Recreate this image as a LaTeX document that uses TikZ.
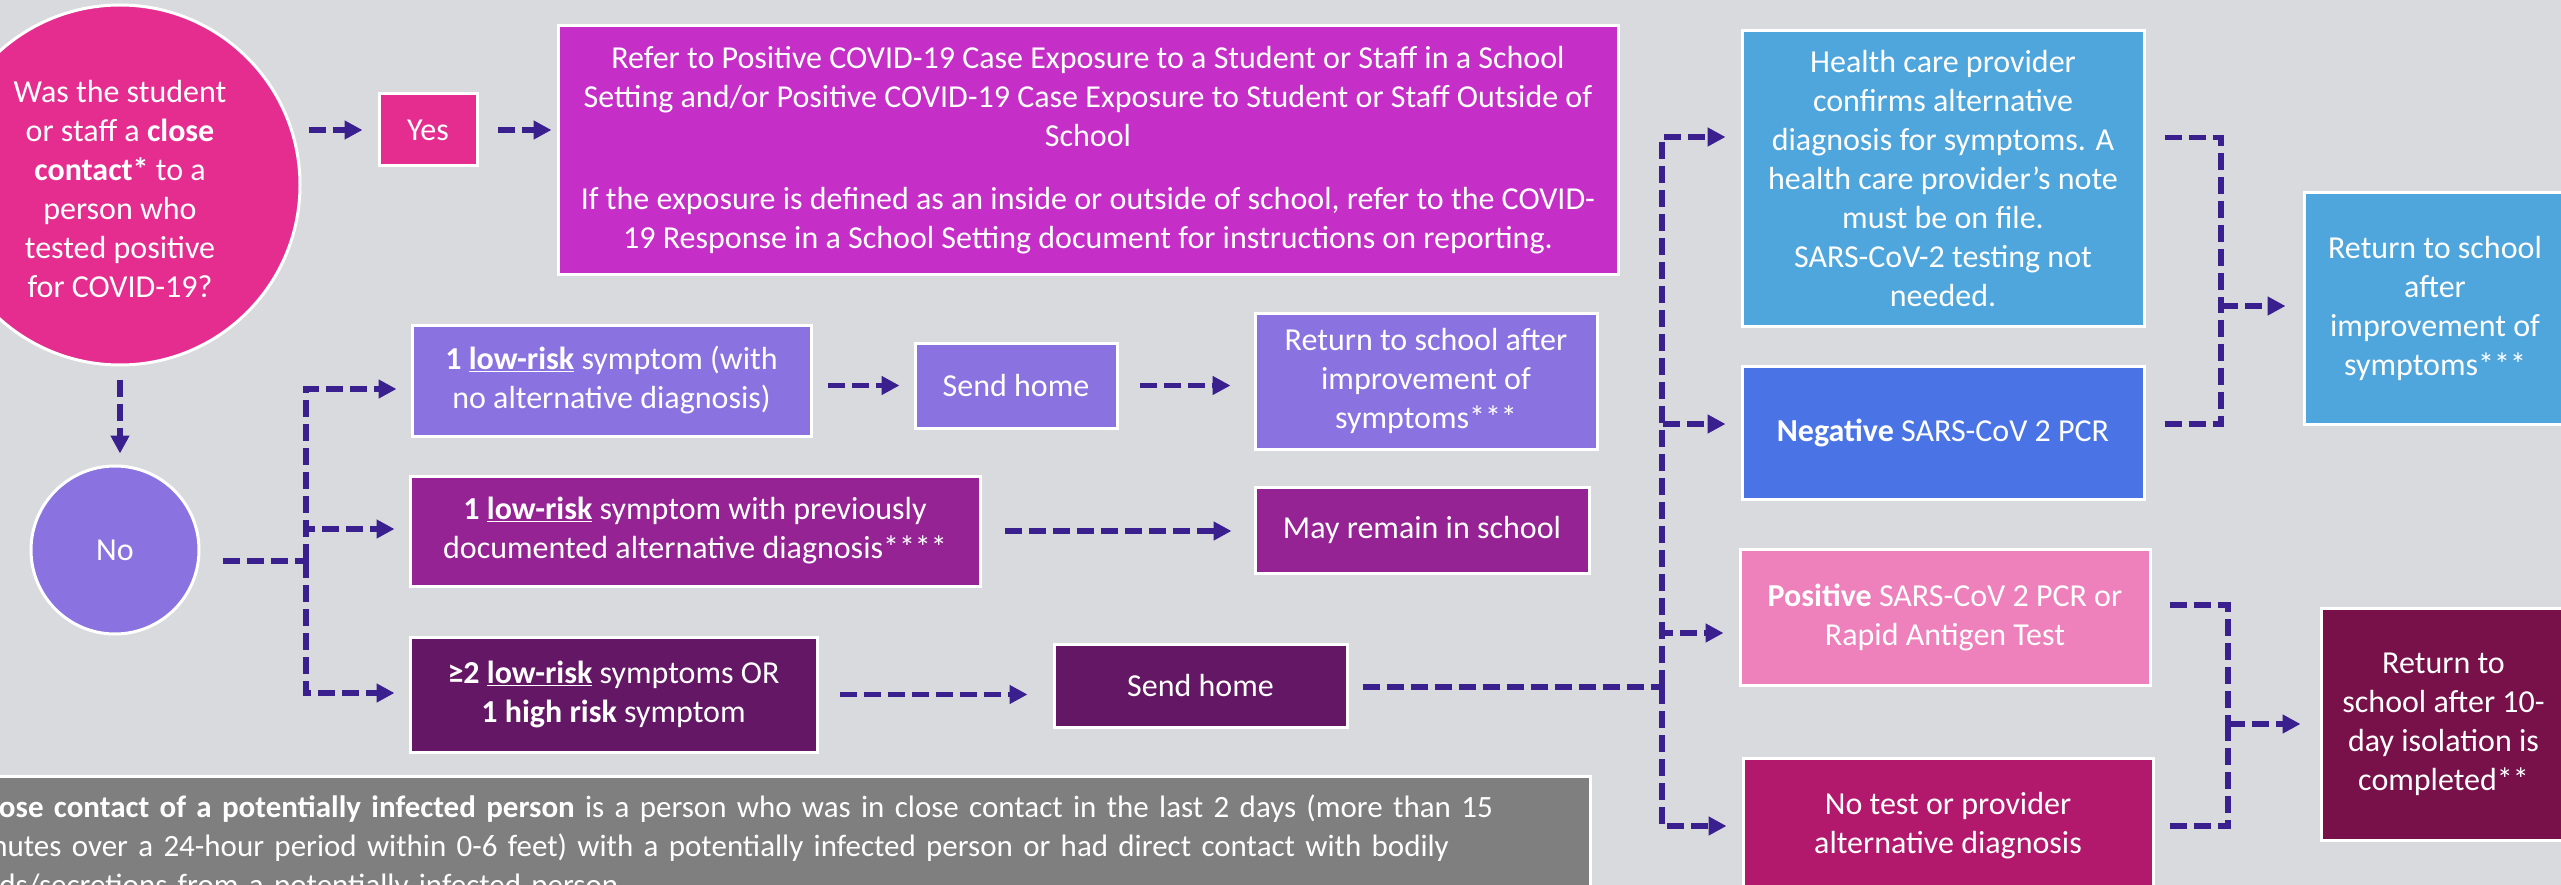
\documentclass[tikz,border=0pt]{standalone}
\usepackage{fontspec}
\setmainfont{Carlito}
\usetikzlibrary{positioning}
\usetikzlibrary{arrows.meta}

\definecolor{bg}{HTML}{D9DADE}
\definecolor{flow}{HTML}{3A1F8E}
\definecolor{hotpink}{HTML}{E42D8F}
\definecolor{orchid}{HTML}{C52EC7}
\definecolor{lav}{HTML}{8A72E0}
\definecolor{plum}{HTML}{952394}
\definecolor{grape}{HTML}{641764}
\definecolor{sky}{HTML}{4FA6DC}
\definecolor{royal}{HTML}{4A74E6}
\definecolor{rose}{HTML}{EE80BB}
\definecolor{berry}{HTML}{B2186C}
\definecolor{wine}{HTML}{781149}
\definecolor{footgray}{HTML}{7F7F7F}

\tikzset{
  box/.style={draw=white, line width=3pt, text=white, align=center, inner sep=0pt,
    font=\fontsize{32pt}{39pt}\selectfont},
  link/.style={draw=flow, line width=5.5pt, dash pattern=on 17pt off 7pt},
  arr/.style={link, -{Triangle[length=18pt,width=18pt]}},
}

\begin{document}
\begin{tikzpicture}[x=1pt, y=-1pt]

\useasboundingbox (0,0) rectangle (2561,885);
\clip (0,0) rectangle (2561,885);
\fill[bg] (0,0) rectangle (2561,885);

% question and first answers
\node[box, circle, fill=hotpink, minimum size=360pt] (q) at (120,185)
  {\\[-8pt]Was the student\\ or staff a \textbf{close}\\ \textbf{contact*} to a\\ person who\\ tested positive\\ for COVID-19?};
\node[box, fill=hotpink, minimum width=98pt, minimum height=72pt] (yes) at (428,130) {Yes};
\node[box, fill=orchid, minimum width=1060pt, minimum height=249pt] (refer) at (1088,150)
  {Refer to Positive COVID-19 Case Exposure to a Student or Staff in a School\\
   Setting and/or Positive COVID-19 Case Exposure to Student or Staff Outside of\\
   School\\[24pt]
   If the exposure is defined as an inside or outside of school, refer to the COVID-\\
   19 Response in a School Setting document for instructions on reporting.};
\node[box, circle, fill=lav, minimum size=168pt] (no) at (115,550) {No};

% symptom rows
\node[box, fill=lav, minimum width=399pt, minimum height=111pt] (low1) at (611.5,380.5)
  {\textbf{1 \underline{low-risk}} symptom (with\\ no alternative diagnosis)};
\node[box, fill=lav, minimum width=202pt, minimum height=85pt] (home1) at (1016,385.5) {Send home};
\node[box, fill=lav, minimum width=342pt, minimum height=136pt] (ret1) at (1426,381)
  {Return to school after\\ improvement of\\ symptoms***};

\node[box, fill=plum, minimum width=570pt, minimum height=110pt] (low2) at (695,531)
  {\textbf{1 \underline{low-risk}} symptom with previously\\ documented alternative diagnosis****};
\node[box, fill=plum, minimum width=334pt, minimum height=86pt] (remain) at (1422,530) {May remain in school};

\node[box, fill=grape, minimum width=407pt, minimum height=115pt] (high) at (613.5,694.5)
  {\textbf{≥2 \underline{low-risk}} symptoms OR\\ \textbf{1 high risk} symptom};
\node[box, fill=grape, minimum width=293pt, minimum height=83pt] (home2) at (1200.5,685.5) {Send home};

% test results
\node[box, fill=sky, minimum width=402pt, minimum height=295pt] (health) at (1943,178.5)
  {Health care provider\\ confirms alternative\\ diagnosis for symptoms. A\\ health care provider’s note\\ must be on file.\\ SARS-CoV-2 testing not\\ needed.};
\node[box, fill=royal, minimum width=402pt, minimum height=133pt] (neg) at (1943,432.5)
  {\textbf{Negative} SARS-CoV 2 PCR};
\node[box, fill=rose, minimum width=410pt, minimum height=136pt] (pos) at (1945,617)
  {\textbf{Positive} SARS-CoV 2 PCR or\\ Rapid Antigen Test};
\node[box, fill=berry, minimum width=410pt, minimum height=136pt] (notest) at (1948,826)
  {No test or provider\\ alternative diagnosis};

\node[box, fill=sky, minimum width=262pt, minimum height=231pt] (ret2) at (2435,308.5)
  {Return to school\\ after\\ improvement of\\ symptoms***};
\node[box, fill=wine, minimum width=245pt, minimum height=232pt] (ret3) at (2443.5,724)
  {Return to\\ school after 10-\\ day isolation is\\ completed**};

% footnote
\node[box, fill=footgray, anchor=north west, align=left, text width=1613pt,
      inner xsep=18pt, inner ysep=18pt, font=\fontsize{31pt}{39pt}\selectfont] (note) at (-60,775)
  {\textbf{*Close contact of a potentially infected person} is a person who was in close contact in the last 2 days (more than 15\\
   minutes over a 24-hour period within 0-6 feet) with a potentially infected person or had direct contact with bodily\\
   fluids/secretions from a potentially infected person.};

% connectors
\coordinate (bus) at (306,561);
\coordinate (bus2) at (1662,687);
\coordinate (j1) at (2221,306);
\coordinate (j2) at (2228,724);

\draw[arr, shorten <=7pt, shorten >=15pt] (q.east |- yes.west) -- (yes.west);
\draw[arr, shorten <=19pt, shorten >=5pt] (yes.east) -- (yes.east -| refer.west);
\draw[arr, shorten <=13pt, shorten >=11pt] (q.south) -- (q.south |- no.north);

\draw[link, shorten <=22pt] (no.east |- bus) -- (bus);
\foreach \n/\s in {low1/-8.5, low2/2, high/1.5}
  \draw[arr, shorten >=14pt] (bus) |- ([yshift=\s pt]\n.west);

\draw[arr, shorten <=15pt, shorten >=14pt] (low1.east |- home1.west) -- (home1.west);
\draw[arr, shorten <=21pt, shorten >=23pt] (home1.east) -- (home1.east -| ret1.west);
\draw[arr, shorten <=23pt, shorten >=22pt] (low2.east) -- (low2.east -| remain.west);
\draw[arr, shorten <=21pt, shorten >=25pt] (high.east) -- (high.east -| home2.west);

\draw[link, shorten <=14pt] (home2.east |- bus2) -- (bus2);
\foreach \n/\s in {health/41.5, neg/8.5, pos/-16, notest/0}
  \draw[arr, shorten >=15pt] (bus2) |- ([yshift=\s pt]\n.west);

\draw[link, shorten <=19pt] ([yshift=41pt]health.east) -| (j1);
\draw[link, shorten <=19pt] ([yshift=8.5pt]neg.east) -| (j1);
\draw[arr, shorten >=17pt] (j1) -- (j1 -| ret2.west);

\draw[link, shorten <=18pt] ([yshift=12pt]pos.east) -| (j2);
\draw[link, shorten <=15pt] (notest.east) -| (j2);
\draw[arr, shorten >=19pt] (j2) -- (ret3.west);

\end{tikzpicture}
\end{document}
